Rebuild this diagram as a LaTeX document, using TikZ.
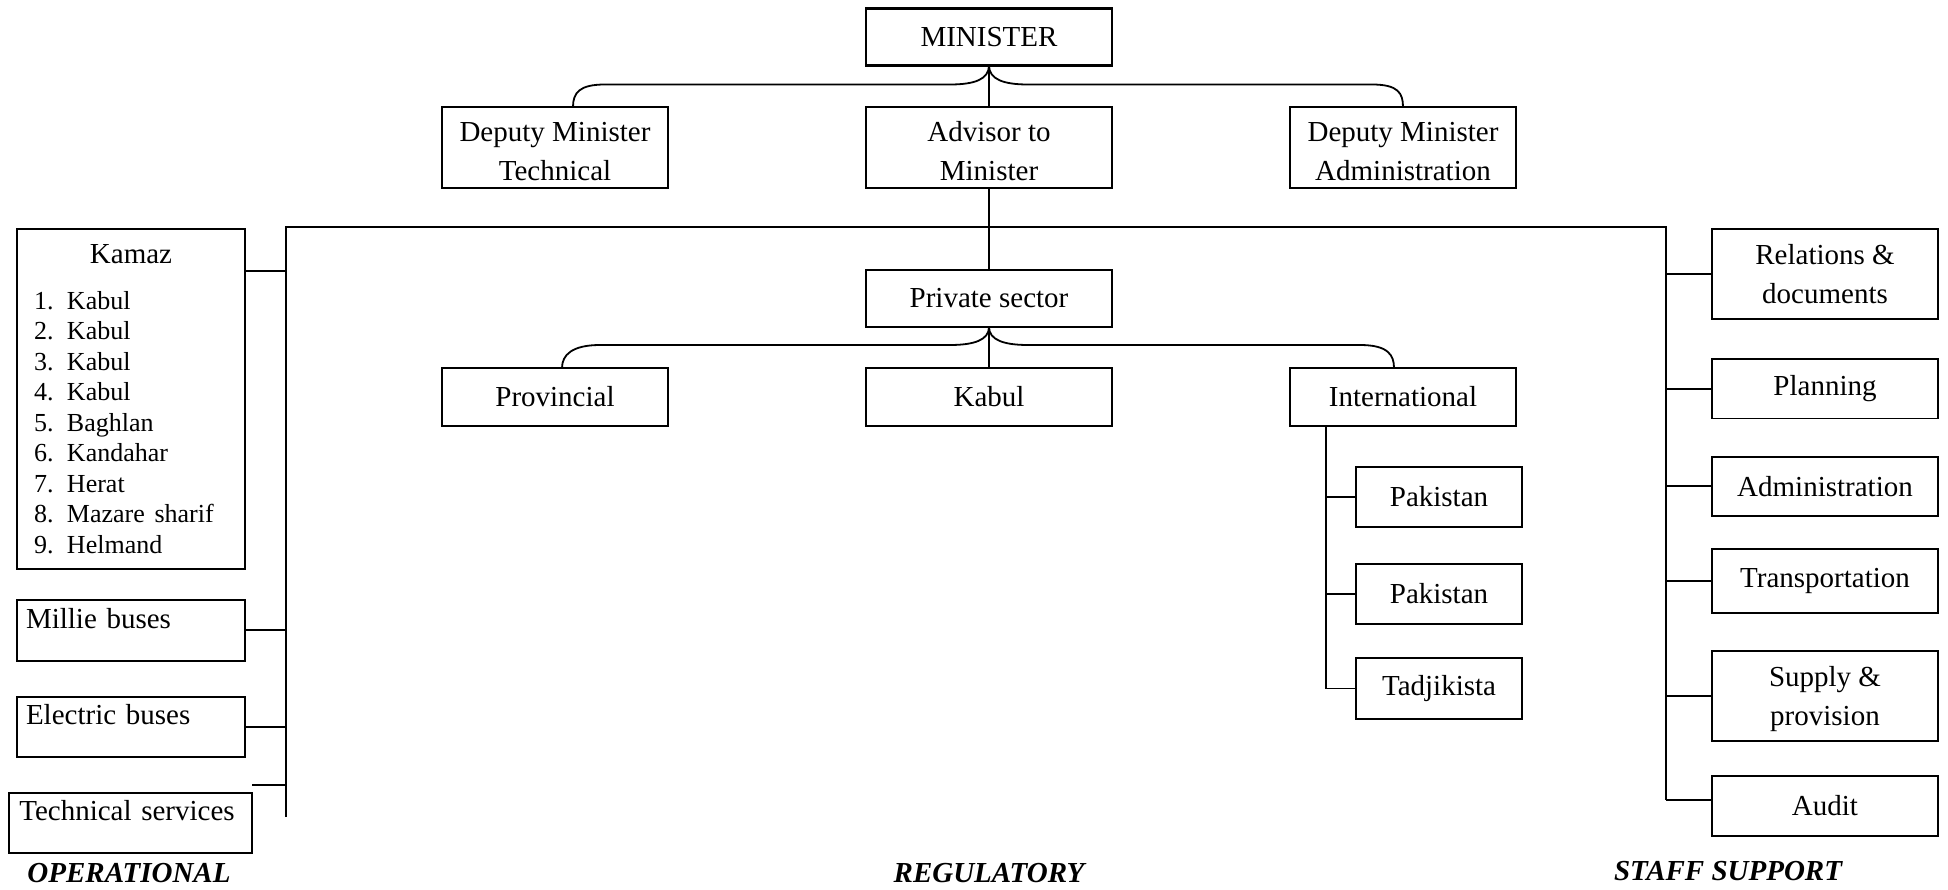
\documentclass[tikz,border=0pt]{standalone}
\usepackage{fontspec}
\setmainfont{Liberation Serif}
\usetikzlibrary{calc}

\begin{document}
\begin{tikzpicture}[x=1pt, y=-1pt, inner sep=0pt, outer sep=0pt,
  every node/.style={font=\fontsize{29}{39}\selectfont},
  headbox/.style={draw, line width=2.4pt, align=center},
  sidebox/.style={draw, line width=1.7pt, align=center},
  listbox/.style={draw, line width=1.7pt, anchor=north west, align=left,
    inner ysep=0pt},
  headlink/.style={draw, line width=1.8pt},
  link/.style={draw, line width=1.8pt},
  tagtext/.style={font=\fontsize{29}{34}\selectfont\bfseries\itshape, anchor=base}]
\useasboundingbox (0,0) rectangle (1948,889);

% minister and advisors
\node[headbox, minimum width=246pt, minimum height=57pt] (minister) at (989,37) {MINISTER};
\node[headbox, minimum width=226pt, minimum height=81pt, text height=66pt] (dmTech) at (555,147.5)
  {Deputy Minister\\Technical};
\node[headbox, minimum width=246pt, minimum height=81pt, text height=66pt] (advisor) at (989,147.5)
  {Advisor to\\Minister};
\node[headbox, minimum width=226pt, minimum height=81pt, text height=66pt] (dmAdmin) at (1403,147.5)
  {Deputy Minister\\Administration};
\draw[headlink] (minister.south) .. controls +(0,14) and +(24,0) .. (950,84.5)
  -- (605,84.5) .. controls +(-26,0) and +(0,-14) .. ($(dmTech.north)+(18,0)$);
\draw[headlink] (minister.south) .. controls +(0,14) and +(-24,0) .. (1028,84.5)
  -- (1372,84.5) .. controls +(26,0) and +(0,-14) .. (dmAdmin.north);
\draw[headlink] (minister.south) -- (advisor.north);

% regulatory
\node[headbox, minimum width=246pt, minimum height=57pt] (privSec) at (989,298.5) {Private sector};
\node[headbox, minimum width=226pt, minimum height=58pt] (provincial) at (555,397) {Provincial};
\node[headbox, minimum width=246pt, minimum height=58pt] (kabul) at (989,397) {Kabul};
\node[headbox, minimum width=226pt, minimum height=58pt] (intl) at (1403,397) {International};
\draw[link] (advisor.south) -- (privSec.north);
\draw[headlink] (privSec.south) .. controls +(0,13) and +(24,0) .. (950,345)
  -- (600,345) .. controls +(-28,0) and +(0,-13) .. ($(provincial.north)+(7,0)$);
\draw[headlink] (privSec.south) .. controls +(0,13) and +(-24,0) .. (1028,345)
  -- (1360,345) .. controls +(28,0) and +(0,-13) .. ($(intl.north)+(-9,0)$);
\draw[headlink] (privSec.south) -- (kabul.north);

\node[sidebox, minimum width=166pt, minimum height=60pt] (pak1) at (1439,496.7) {Pakistan};
\node[sidebox, minimum width=166pt, minimum height=60pt] (pak2) at (1439,594) {Pakistan};
\node[sidebox, minimum width=166pt, minimum height=61pt] (tadj) at (1439,688.5) {Tadjikista};
\coordinate (intlStem) at ($(intl.south west)+(36,0)$);
\draw[link] (intlStem) |- (tadj.west);
\draw[link] (intlStem |- pak1.west) -- (pak1.west);
\draw[link] (intlStem |- pak2.west) -- (pak2.west);

% main bus
\coordinate (opTop) at (286,227);
\coordinate (opEnd) at (286,817);
\coordinate (staffTop) at (1666,227);
\coordinate (staffEnd) at (1666,800);
\draw[link] (opEnd) -- (opTop) -- (staffTop) -- (staffEnd);

% operational
\node[draw, line width=1.7pt, anchor=north west, align=left, text width=194pt,
  inner xsep=17pt, minimum height=340pt] (kamaz) at (17,229)
  {\makebox[194pt]{Kamaz}\\[15.5pt]
   \fontsize{26}{30.5}\selectfont
   1.\hspace{13.5pt}Kabul\\
   2.\hspace{13.5pt}Kabul\\
   3.\hspace{13.5pt}Kabul\\
   4.\hspace{13.5pt}Kabul\\
   5.\hspace{13.5pt}Baghlan\\
   6.\hspace{13.5pt}Kandahar\\
   7.\hspace{13.5pt}Herat\\
   8.\hspace{13.5pt}Mazare sharif\\
   9.\hspace{13.5pt}Helmand\par};
\node[listbox, text width=210pt, inner xsep=9pt, text height=28pt, text depth=32.7pt]
  (millie) at (17,600) {Millie buses};
\node[listbox, text width=210pt, inner xsep=9pt, text height=28pt, text depth=32pt]
  (electric) at (17,696.7) {Electric buses};
\node[listbox, text width=223pt, inner xsep=10pt, text height=27pt, text depth=33pt]
  (techServ) at (9.3,793.3) {Technical services};
\draw[link] ($(kamaz.north east)+(0,42)$) -- +(40,0);
\draw[link] (millie.east) -- (opTop |- millie.east);
\draw[link] (electric.east) -- (opTop |- electric.east);
\draw[link] ($(techServ.north east)+(0,-8)$) -- +(34,0);

% staff support
\node[sidebox, minimum width=226.6pt, minimum height=90pt] (relations) at (1825,274.3)
  {Relations \&\\documents};
\node[sidebox, minimum width=226.6pt, minimum height=59.3pt] (planning) at (1825,388.7) {Planning};
\node[sidebox, minimum width=226.6pt, minimum height=59.3pt] (administration) at (1825,486.3)
  {Administration};
\node[sidebox, minimum width=226.6pt, minimum height=64pt] (transport) at (1825,581.3)
  {Transportation};
\node[sidebox, minimum width=226.6pt, minimum height=90pt, text height=66pt] (supply) at (1825,696)
  {Supply \&\\provision};
\node[sidebox, minimum width=226.6pt, minimum height=60pt] (audit) at (1825,805.7) {Audit};
\foreach \b in {relations, planning, administration, transport, supply}
  \draw[link] (staffTop |- \b.west) -- (\b.west);
\draw[link] (staffEnd) -- (staffEnd -| audit.west);

% group labels
\node[tagtext] (opLabel) at (129,882) {OPERATIONAL};
\node[tagtext] (regLabel) at (989,882) {REGULATORY};
\node[tagtext] (staffLabel) at (1728,880) {STAFF SUPPORT};
\end{tikzpicture}
\end{document}
